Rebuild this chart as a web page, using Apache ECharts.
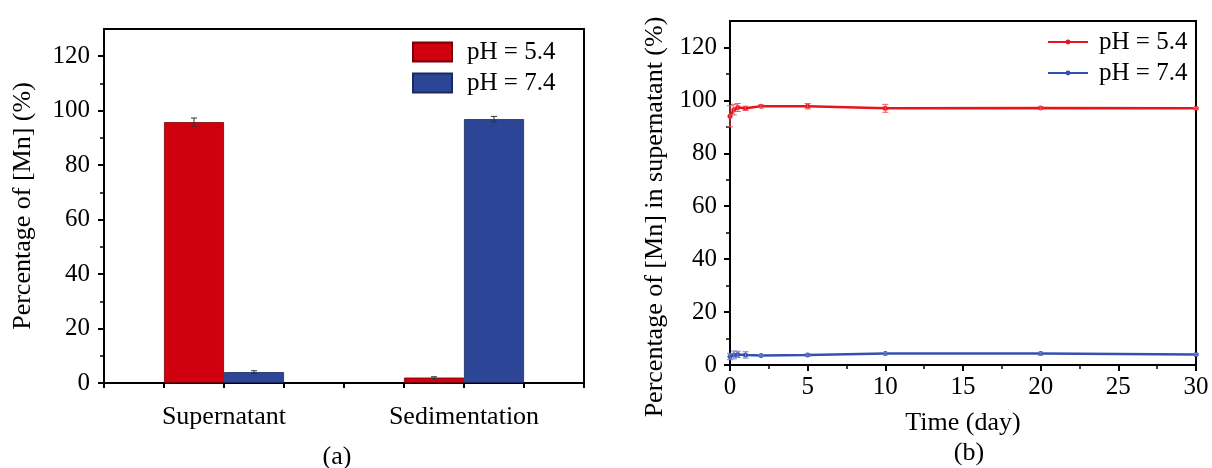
<!DOCTYPE html>
<html>
<head>
<meta charset="utf-8">
<script src="https://cdn.jsdelivr.net/npm/echarts@6/dist/echarts.min.js"></script>
<style>html,body{margin:0;padding:0;background:#fff;}#c{width:1212px;height:468px;}</style>
</head>
<body>
<div id="c"></div>
<script>
const categories = ['Supernatant', 'Sedimentation'];
const barPH54 = [95.8, 2.0];
const barPH54Err = [1.5, 0.3];
const barPH74 = [4.0, 96.9];
const barPH74Err = [0.5, 1.0];

const yMajorTicks = [0, 20, 40, 60, 80, 100, 120];
const yMinorTicks = [10, 30, 50, 70, 90, 110];

const timeDays = [0, 0.25, 0.5, 1, 2, 5, 10, 20, 30];
const linePH54 = [94.0, 96.5, 97.3, 97.0, 97.8, 97.8, 97.0, 97.1, 97.0];
const linePH54Err = [4.0, 2.0, 1.5, 0.8, 0.5, 1.0, 1.5, 0.5, 0.3];
const linePH74 = [3.2, 3.8, 4.0, 3.8, 3.6, 3.8, 4.3, 4.3, 4.0];
const linePH74Err = [1.2, 1.5, 1.2, 1.2, 0.3, 0.4, 0.4, 0.5, 0.3];

const FONT = '"Liberation Serif", "Times New Roman", serif';
const RED_BAR = '#d0000e';
const BLUE_BAR = '#2c4597';
const RED_LINE = '#e8141c';
const BLUE_LINE = '#3550b0';

function errData(xs, ys, es, off) {
  return xs.map((x, i) => [x, ys[i] - es[i], ys[i] + es[i], off]);
}

function renderErr(params, api) {
  const xv = api.value(0), lo = api.value(1), hi = api.value(2), off = api.value(3);
  const pLo = api.coord([xv, lo]);
  const pHi = api.coord([xv, hi]);
  let x = pLo[0];
  if (off !== 0) {
    const band = api.size([1, 0])[0];
    x += off * band / 8;
  }
  const cap = 3;
  const st = api.style({ stroke: api.visual('color'), lineWidth: 1, fill: null });
  return {
    type: 'group',
    children: [
      { type: 'line', shape: { x1: x, y1: pLo[1], x2: x, y2: pHi[1] }, style: st },
      { type: 'line', shape: { x1: x - cap, y1: pLo[1], x2: x + cap, y2: pLo[1] }, style: st },
      { type: 'line', shape: { x1: x - cap, y1: pHi[1], x2: x + cap, y2: pHi[1] }, style: st }
    ]
  };
}

const axisLine = { show: true, lineStyle: { color: '#000', width: 2 } };
const labelStyle = { color: '#000', fontFamily: FONT, fontSize: 25 };

const chart = echarts.init(document.getElementById('c'));
chart.setOption({
  backgroundColor: '#fff',
  animation: false,
  textStyle: { fontFamily: FONT },
  grid: [
    { left: 104, top: 29, width: 480, height: 354, show: true, borderColor: '#000', borderWidth: 2,
      backgroundColor: 'transparent', outerBoundsMode: 'none', containLabel: false },
    { left: 730, top: 21, width: 466, height: 344, show: true, borderColor: '#000', borderWidth: 2,
      backgroundColor: 'transparent', outerBoundsMode: 'none', containLabel: false }
  ],
  xAxis: [
    { type: 'category', gridIndex: 0, data: categories, axisLine: axisLine, position: 'bottom',
      axisTick: { show: false }, axisLabel: Object.assign({}, labelStyle, { margin: 21, fontSize: 26 }),
      splitLine: { show: false } },
    { type: 'value', gridIndex: 0, min: 0, max: 8, interval: 1, position: 'bottom',
      axisLine: { show: false }, axisTick: { show: true, inside: false, length: 5, lineStyle: { color: '#000', width: 2 } },
      axisLabel: { show: false }, splitLine: { show: false } },
    { type: 'value', gridIndex: 1, min: 0, max: 30, interval: 5, axisLine: axisLine, position: 'bottom',
      axisTick: { show: true, inside: false, length: 6, lineStyle: { color: '#000', width: 2 } },
      minorTick: { show: true, splitNumber: 2, length: 4, lineStyle: { color: '#000', width: 1.5 } },
      axisLabel: Object.assign({ margin: 10 }, labelStyle),
      splitLine: { show: false },
      name: 'Time (day)', nameLocation: 'middle', nameGap: 45,
      nameTextStyle: { color: '#000', fontFamily: FONT, fontSize: 26 } }
  ],
  yAxis: [
    { type: 'value', gridIndex: 0, min: 0, max: 130, axisLine: axisLine, position: 'left',
      axisTick: { show: true, inside: false, length: 6, customValues: yMajorTicks, lineStyle: { color: '#000', width: 2 } },
      axisLabel: Object.assign({ margin: 14, customValues: yMajorTicks }, labelStyle),
      splitLine: { show: false },
      name: 'Percentage of [Mn] (%)', nameLocation: 'middle', nameGap: 68, nameRotate: 90,
      nameTextStyle: { color: '#000', fontFamily: FONT, fontSize: 26 } },
    { type: 'value', gridIndex: 0, min: 0, max: 130, axisLine: { show: false }, position: 'left',
      axisTick: { show: true, inside: false, length: 4, customValues: yMinorTicks, lineStyle: { color: '#000', width: 1.5 } },
      axisLabel: { show: false }, splitLine: { show: false } },
    { type: 'value', gridIndex: 1, min: 0, max: 130, axisLine: axisLine, position: 'left',
      axisTick: { show: true, inside: false, length: 6, customValues: yMajorTicks, lineStyle: { color: '#000', width: 2 } },
      axisLabel: Object.assign({ margin: 13, customValues: yMajorTicks }, labelStyle),
      splitLine: { show: false } },
    { type: 'value', gridIndex: 1, min: 0, max: 130, axisLine: { show: false }, position: 'left',
      axisTick: { show: true, inside: false, length: 4, customValues: yMinorTicks, lineStyle: { color: '#000', width: 1.5 } },
      axisLabel: { show: false }, splitLine: { show: false } }
  ],
  legend: [
    { left: 412, top: 39, orient: 'vertical', itemWidth: 39, itemHeight: 19, itemGap: 5, padding: 0,
      data: [{ name: 'pH = 5.4', icon: 'rect' }, { name: 'pH = 7.4', icon: 'rect' }],
      textStyle: { color: '#000', fontFamily: FONT, fontSize: 25, lineHeight: 26, padding: [0, 0, 0, 10] } },
    { left: 1047, top: 29, orient: 'vertical', itemWidth: 40, itemHeight: 6, itemGap: 5, padding: 0,
      data: ['pH = 5.4 ', 'pH = 7.4 '],
      textStyle: { color: '#000', fontFamily: FONT, fontSize: 25, lineHeight: 26, padding: [0, 0, 0, 6] } }
  ],
  graphic: [
    { type: 'text', x: 337, y: 457, style: { text: '(a)', fill: '#000', font: '26px ' + FONT, textAlign: 'center', textVerticalAlign: 'middle' } },
    { type: 'text', x: 969, y: 453, style: { text: '(b)', fill: '#000', font: '26px ' + FONT, textAlign: 'center', textVerticalAlign: 'middle' } },
    { type: 'text', x: 655, y: 217, rotation: Math.PI / 2,
      style: { text: 'Percentage of [Mn] in supernatant (%)', fill: '#000', font: '26px ' + FONT, textAlign: 'center', textVerticalAlign: 'middle' } }
  ],
  series: [
    { name: 'pH = 5.4', type: 'bar', xAxisIndex: 0, yAxisIndex: 0, data: barPH54, barWidth: '25%', barGap: '0%',
      itemStyle: { color: RED_BAR, borderColor: '#7a0008', borderWidth: 0.8 } },
    { name: 'pH = 7.4', type: 'bar', xAxisIndex: 0, yAxisIndex: 0, data: barPH74, barWidth: '25%', barGap: '0%',
      itemStyle: { color: BLUE_BAR, borderColor: '#1a2a60', borderWidth: 0.8 } },
    { type: 'custom', xAxisIndex: 0, yAxisIndex: 0, renderItem: renderErr, z: 5,
      itemStyle: { color: '#333' }, data: errData([0, 1], barPH54, barPH54Err, -1) },
    { type: 'custom', xAxisIndex: 0, yAxisIndex: 0, renderItem: renderErr, z: 5,
      itemStyle: { color: '#333' }, data: errData([0, 1], barPH74, barPH74Err, 1) },
    { name: 'pH = 5.4 ', type: 'line', xAxisIndex: 2, yAxisIndex: 2,
      data: timeDays.map((t, i) => [t, linePH54[i]]), symbol: 'circle', symbolSize: 5,
      lineStyle: { color: RED_LINE, width: 2.5 }, itemStyle: { color: RED_LINE } },
    { name: 'pH = 7.4 ', type: 'line', xAxisIndex: 2, yAxisIndex: 2,
      data: timeDays.map((t, i) => [t, linePH74[i]]), symbol: 'circle', symbolSize: 5,
      lineStyle: { color: BLUE_LINE, width: 2.5 }, itemStyle: { color: BLUE_LINE } },
    { type: 'custom', xAxisIndex: 2, yAxisIndex: 2, renderItem: renderErr, z: 5,
      itemStyle: { color: '#ee5a60' }, data: errData(timeDays, linePH54, linePH54Err, 0) },
    { type: 'custom', xAxisIndex: 2, yAxisIndex: 2, renderItem: renderErr, z: 5,
      itemStyle: { color: '#6f84cc' }, data: errData(timeDays, linePH74, linePH74Err, 0) }
  ]
});
</script>
</body>
</html>
